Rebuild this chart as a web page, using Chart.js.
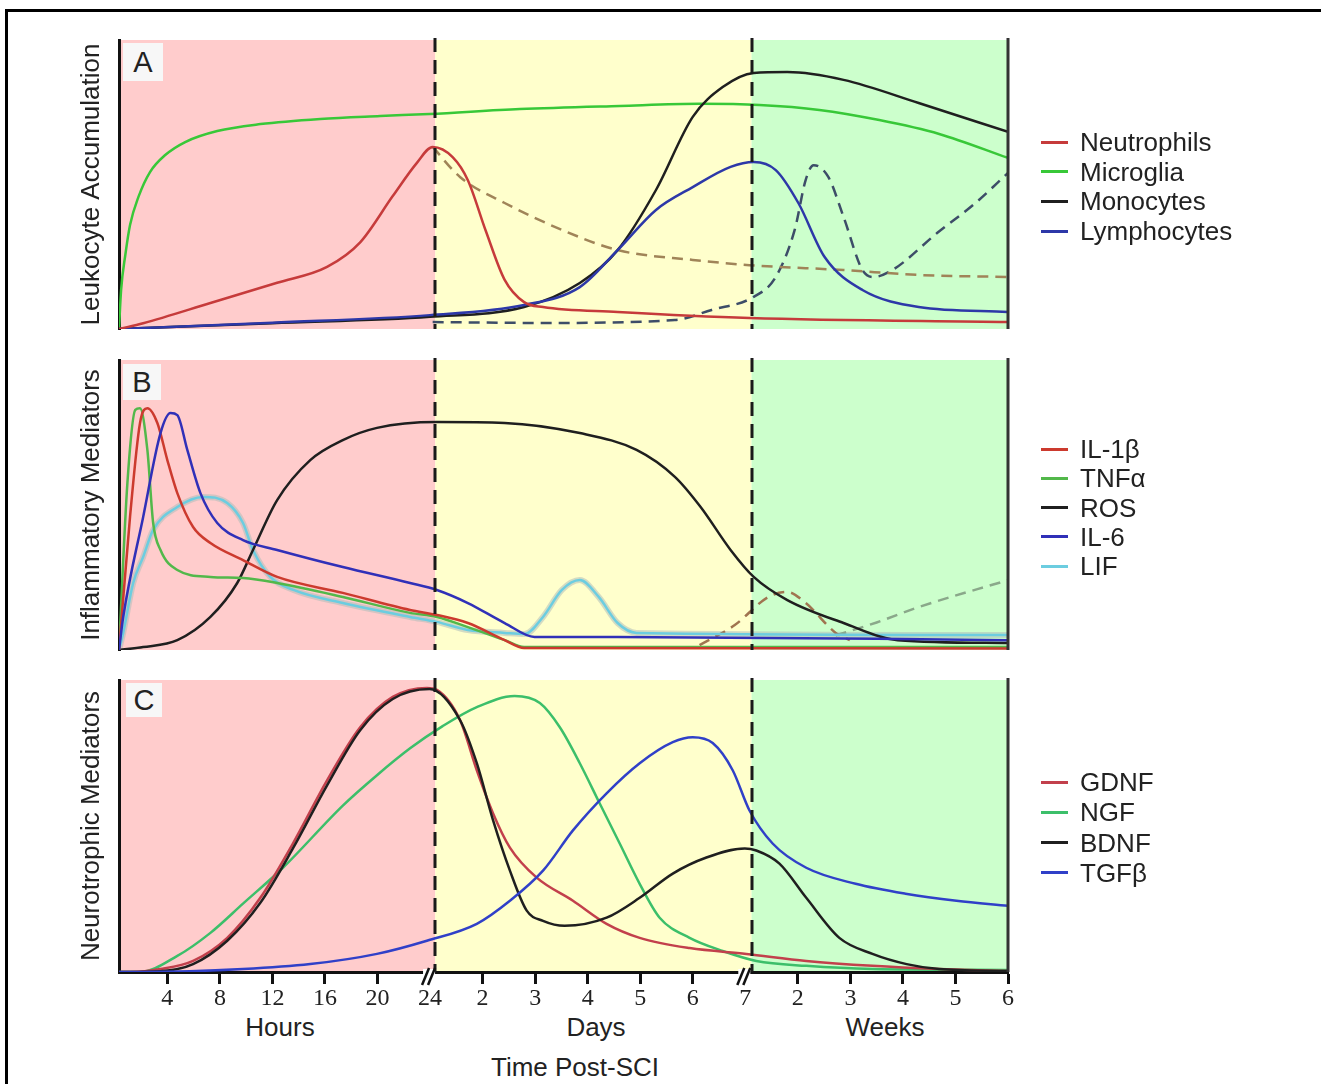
<!DOCTYPE html>
<html><head><meta charset="utf-8">
<script src="https://cdn.jsdelivr.net/npm/chart.js@4.4.1/dist/chart.umd.min.js"></script>
<style>
html,body{margin:0;padding:0;background:#fff;width:1321px;height:1084px;overflow:hidden;position:relative;font-family:"Liberation Sans",Arial,sans-serif;color:#222}
#frame{position:absolute;left:5px;top:9px;width:1340px;height:1100px;border:3px solid #000;box-sizing:border-box}
canvas{position:absolute;left:0}
.lbl{position:absolute;white-space:nowrap;transform:translate(-50%,-50%);font-size:26px;line-height:1}
.item{position:absolute;left:1041px;display:flex;align-items:center;white-space:nowrap;transform:translateY(-50%);font-size:26px;line-height:1}
.swatch{width:27px;height:3px;margin-right:12px}
.letter{position:absolute;background:#f7f7f7;font-size:29px;display:flex;align-items:center;justify-content:center;line-height:1}
</style></head>
<body>
<div id="frame"></div>
<canvas id="cA" width="1321" height="312" style="top:28px"></canvas>
<canvas id="cB" width="1321" height="313" style="top:348px"></canvas>
<canvas id="cC" width="1321" height="344" style="top:668px"></canvas>
<div id="overlay"></div>
<script>
// ---------- axis / category data ----------
// x axis is in tick units: 1..6 = 4..24 hours, 7..12 = days 2..7, 13..17 = weeks 2..6
const X_MIN = 0.08, X_MAX = 17;
const BREAKS = [6.1, 12.12];
const xTickValues = [1,2,3,4,5,6,7,8,9,10,11,12,13,14,15,16,17];
const xTickLabels = ['4','8','12','16','20','24','2','3','4','5','6','7','2','3','4','5','6'];
const breakTicks = [6, 12];
const periodLabels = ['Hours','Days','Weeks'];
const xAxisTitle = 'Time Post-SCI';
const panelLetters = ['A','B','C'];
const panelTitles = ['Leukocyte Accumulation','Inflammatory Mediators','Neurotrophic Mediators'];
const seriesA = ['Neutrophils','Microglia','Monocytes','Lymphocytes'];
const seriesB = ['IL-1\u03b2','TNF\u03b1','ROS','IL-6','LIF'];
const seriesC = ['GDNF','NGF','BDNF','TGF\u03b2'];

// ---------- panel A: leukocyte accumulation ----------
const neutrophils = [[0.08,0],[0.54,2],[1.82,9],[3.09,16],[4.04,21.5],[4.67,30],[5.29,46],[5.75,57.5],[6.05,63],[6.43,59.5],[6.72,51.5],[7.06,34],[7.42,17],[7.79,9.3],[8.15,7.6],[9.57,5.9],[12.08,3.8],[17,2.4]];
const neutrophilsAlt = [[6.05,63],[6.57,52.6],[7.42,43.6],[8.51,34.3],[9.57,27.3],[11.0,23.9],[12.08,22.1],[13.87,20.4],[15.3,18.7],[17,18]];
const microglia = [[0.08,0],[0.12,13.5],[0.2,25.6],[0.29,36],[0.45,45.7],[0.67,54.3],[0.96,60.2],[1.34,64.7],[1.95,68.5],[2.77,70.9],[3.91,72.7],[5.05,73.7],[5.99,74.4],[7.71,76.1],[9.61,77.2],[11.13,77.9],[12.27,77.5],[13.41,75.8],[14.55,72.3],[15.69,67.5],[17,59.2]];
const monocytes = [[0.08,0],[3,2],[6,4.2],[7.79,7.6],[8.85,15.9],[9.57,27.3],[10.3,48.1],[11.0,73.4],[11.57,83.7],[12.16,88.6],[12.8,88.9],[13.87,86.2],[15.3,78.2],[17,68.2]];
const lymphocytes = [[0.08,0],[3,2.2],[6,4.8],[7.79,8.3],[8.85,14.5],[9.57,27.3],[10.3,41.2],[11.0,49.1],[11.72,56.1],[12.16,57.8],[12.58,55],[13.01,43.6],[13.51,24.9],[14.23,13.5],[15.3,7.6],[17,5.9]];
const lymphocytesAlt = [[6.05,2.4],[8.15,2.1],[10.66,3.1],[11.36,6.6],[12.16,11.1],[12.58,18],[12.94,34.3],[13.15,51.6],[13.3,56.7],[13.58,52.6],[13.87,38.8],[14.23,20.4],[14.44,18],[14.8,20.4],[15.65,33.2],[16.38,43.6],[17,54]];

// ---------- panel B: inflammatory mediators ----------
const il1b = [[0.08,0],[0.29,45.9],[0.48,78.3],[0.62,83.4],[0.81,78.3],[1.0,65.5],[1.19,54.1],[1.49,42.4],[1.82,36.9],[2.44,31],[3.09,25.2],[4.34,19.7],[5.62,13.8],[6.13,12.1],[6.72,9.3],[7.42,3.4],[7.79,0.7],[17,0.5]];
const il1bAlt = [[11.13,1.7],[11.8,8.6],[12.44,18.3],[12.8,20],[13.15,16.2],[13.72,5.9],[13.99,3.4]];
const tnfa = [[0.08,0],[0.24,57.6],[0.39,82.8],[0.48,83.4],[0.62,69],[0.73,43.8],[0.87,34.5],[1.19,27.6],[1.82,25.2],[2.44,24.8],[3.09,23.1],[4.34,18.3],[5.62,12.8],[6.13,11.4],[6.72,7.9],[7.42,3.4],[7.79,1],[17,1]];
const tnfaAlt = [[13.72,5],[14.5,9.5],[15.3,14.8],[17,24.1]];
const ros = [[0.08,0],[0.54,1],[1.19,3.4],[1.82,11.4],[2.33,23.1],[2.63,34.5],[3.09,51.7],[3.72,65.5],[4.34,72.4],[4.99,76.6],[6.13,78.6],[7.42,78.3],[8.85,74.8],[9.93,69],[10.66,59.7],[11.15,49.3],[11.72,34.5],[12.16,25.2],[12.8,17.2],[13.87,9.3],[14.9,3.4],[17,2.4]];
const il6 = [[0.08,0],[0.16,11.4],[0.54,45.9],[0.87,74.8],[1.06,81.7],[1.19,81],[1.38,69],[1.63,54.1],[1.95,43.8],[2.44,37.9],[3.09,34.5],[4.34,28.6],[5.62,23.1],[6.13,20.7],[6.72,16.2],[7.42,9.3],[7.99,4.5],[9.57,4.5],[17,3.4]];
const lif = [[0.08,0],[0.16,5.9],[0.35,23.1],[0.54,32.1],[0.73,41.4],[1.19,49.3],[1.68,52.8],[2.14,50.7],[2.44,43.8],[2.63,34.5],[2.96,25.2],[3.4,20.7],[4.34,16.2],[5.62,11.4],[6.13,9.7],[6.72,6.9],[7.42,5.9],[7.8,5.5],[8.15,11.4],[8.51,20.7],[8.85,24.1],[9.21,18.3],[9.57,9.3],[9.93,5.9],[17,5.2]];

// ---------- panel C: neurotrophic mediators ----------
const gdnf = [[0.08,0],[0.29,0],[0.87,1],[1.49,3.8],[2.14,11.7],[2.77,25.4],[3.39,44],[4.04,65.6],[4.67,83.8],[5.29,94.2],[5.94,97.3],[6.13,96.6],[6.57,86.3],[6.89,69.1],[7.2,54.3],[7.52,42.6],[8.03,32.3],[8.72,24.4],[9.36,16.5],[9.99,11.7],[10.94,8.2],[12.02,6.2],[13.16,3.8],[14.42,2.1],[15.69,1],[17,0.3]];
const ngf = [[0.08,0],[0.48,0],[1.19,5.5],[1.82,13.4],[2.44,23.4],[3.2,35.7],[4.34,57],[4.99,67.4],[5.62,76.6],[6.24,84.2],[6.89,90.7],[7.61,94.5],[8.09,92.1],[8.47,83.8],[8.85,71.5],[9.23,57.7],[9.61,44],[9.99,30.2],[10.37,18.6],[10.94,11.7],[11.57,7.2],[12.21,3.8],[13.16,2.1],[14.42,1],[17,0.7]];
const bdnf = [[0.08,0],[0.87,0.3],[1.49,2.7],[2.14,10.7],[2.77,23.7],[3.39,42.3],[4.04,63.9],[4.67,82.8],[5.29,93.5],[5.99,96.9],[6.57,86.3],[6.89,71.5],[7.2,51.9],[7.52,34.7],[7.84,21],[8.15,17.5],[8.56,15.8],[9.36,18.6],[9.99,25.4],[10.62,33.7],[11.26,39.2],[11.99,42.3],[12.21,41.6],[12.65,37.1],[13.16,25.4],[13.79,11.7],[14.42,6.2],[15.07,2.7],[15.69,1],[17,0.3]];
const tgfb = [[0.08,0],[0.54,0],[2.44,1],[3.72,2.7],[4.99,6.2],[5.94,10.7],[6.89,16.5],[7.52,24.4],[8.15,34.7],[8.72,48.5],[9.36,61.2],[9.99,71.5],[10.62,78.7],[11.0,80.4],[11.38,78.4],[11.76,69.1],[12.08,55.3],[12.52,44],[13.16,35.7],[14.1,30.2],[15.05,26.8],[16.02,24.4],[17,22.7]];

// ---------- styling ----------
const BG = ['#ffcccc','#ffffcc','#ccffcc'];
const SANS = '"Liberation Sans", Arial, sans-serif';
const SERIF = '"Liberation Serif", "Times New Roman", serif';

function line(label, pts, color, extra) {
  return Object.assign({
    label, data: pts.map(p => ({x: p[0], y: p[1]})),
    borderColor: color, backgroundColor: color, borderWidth: 2.5,
    pointRadius: 0, fill: false, cubicInterpolationMode: 'monotone'
  }, extra || {});
}
const DASH = {borderDash: [11, 7], borderWidth: 2.5};

const colA = ['#c63b3b','#38c838','#1f1f1f','#2d38a8'];
const colB = ['#cc3a2e','#52b84a','#1f1f1f','#3030b8','#6ccde0'];
const colC = ['#c2404c','#3cbf6a','#1f1f1f','#3040c8'];

const dsA = [
  line(seriesA[0], neutrophils, colA[0]),
  line(seriesA[3], lymphocytes, colA[3]),
  line(seriesA[2], monocytes, colA[2]),
  line(seriesA[1], microglia, colA[1]),
  line('', neutrophilsAlt, '#a08458', DASH),
  line('', lymphocytesAlt, '#3d4d68', DASH)
];
const dsB = [
  line(seriesB[3], il6, colB[3]),
  line(seriesB[0], il1b, colB[0]),
  line(seriesB[1], tnfa, colB[1]),
  line(seriesB[2], ros, colB[2]),
  line(seriesB[4], lif, colB[4]),
  line('', il1bAlt, '#a07450', DASH),
  line('', tnfaAlt, '#8aa88a', DASH),
  line('', lif, 'rgba(175,190,185,0.55)', {borderWidth: 6})
];
const dsC = [
  line(seriesC[3], tgfb, colC[3]),
  line(seriesC[2], bdnf, colC[2]),
  line(seriesC[0], gdnf, colC[0]),
  line(seriesC[1], ngf, colC[1])
];

const decor = {
  id: 'decor',
  beforeDraw(chart) {
    const {ctx, chartArea: a, scales: {x}} = chart;
    const b1 = x.getPixelForValue(BREAKS[0]), b2 = x.getPixelForValue(BREAKS[1]);
    ctx.save();
    ctx.fillStyle = BG[0]; ctx.fillRect(a.left, a.top, b1 - a.left, a.bottom - a.top);
    ctx.fillStyle = BG[1]; ctx.fillRect(b1, a.top, b2 - b1, a.bottom - a.top);
    ctx.fillStyle = BG[2]; ctx.fillRect(b2, a.top, a.right - b2, a.bottom - a.top);
    ctx.restore();
  },
  afterDatasetsDraw(chart) {
    const {ctx, chartArea: a, scales: {x}} = chart;
    ctx.save();
    ctx.strokeStyle = '#1a1a1a'; ctx.lineWidth = 3; ctx.setLineDash([14, 8]);
    BREAKS.forEach(b => {
      const px = Math.round(x.getPixelForValue(b));
      ctx.beginPath(); ctx.moveTo(px, a.top - 2); ctx.lineTo(px, a.bottom); ctx.stroke();
    });
    ctx.setLineDash([]);
    ctx.strokeStyle = '#333'; ctx.lineWidth = 3;
    ctx.beginPath(); ctx.moveTo(a.right, a.top - 2); ctx.lineTo(a.right, a.bottom); ctx.stroke();
    ctx.restore();
  },
  afterDraw(chart) {
    const {ctx, scales: {x}} = chart;
    if (!x.options.display) return;
    ctx.save();
    breakTicks.forEach(t => {
      const px = x.getPixelForValue(t) - 1;
      const y = x.top;
      ctx.fillStyle = '#fff';
      ctx.fillRect(px - 6, y - 3, 12, 7);
      ctx.strokeStyle = '#111'; ctx.lineWidth = 2.5;
      [-3, 3].forEach(k => {
        ctx.beginPath(); ctx.moveTo(px + k - 4, y + 13); ctx.lineTo(px + k + 3, y - 4); ctx.stroke();
      });
    });
    ctx.restore();
  }
};

function makePanel(id, title, datasets, showX, padBottom) {
  return new Chart(document.getElementById(id), {
    type: 'line',
    data: {datasets},
    options: {
      responsive: false, animation: false, events: [],
      layout: {padding: {left: 72, right: 313, top: 12, bottom: padBottom}},
      plugins: {legend: {display: false}, tooltip: {enabled: false}},
      scales: {
        x: {
          type: 'linear', min: X_MIN, max: X_MAX, display: showX,
          afterBuildTicks(s) { s.ticks = xTickValues.map(v => ({value: v})); },
          ticks: {
            autoSkip: false, maxRotation: 0, minRotation: 0, padding: 0, color: '#222',
            font: {family: SERIF, size: 24},
            callback: (v) => { const i = xTickValues.indexOf(v); return i >= 0 ? xTickLabels[i] : ''; }
          },
          grid: {
            display: true, drawOnChartArea: false, drawTicks: true, tickLength: 12, tickWidth: 3,
            tickColor: (c) => (c.tick && breakTicks.includes(c.tick.value)) ? 'rgba(0,0,0,0)' : '#111'
          },
          border: {display: true, color: '#111', width: 3},
          afterFit(s) { s.height = showX ? 40 : 0; }
        },
        y: {
          min: 0, max: 100,
          ticks: {display: false},
          grid: {display: false},
          border: {display: true, color: '#111', width: 3},
          title: {display: true, text: title, color: '#222', font: {family: SANS, size: 26}, padding: {top: 4, bottom: 0}},
          afterFit(s) { s.width = 47; }
        }
      }
    },
    plugins: [decor]
  });
}

makePanel('cA', panelTitles[0], dsA, false, 11);
makePanel('cB', panelTitles[1], dsB, false, 11);
makePanel('cC', panelTitles[2], dsC, true, 0);

// ---------- HTML overlays: legends, letters, period labels ----------
const ov = document.getElementById('overlay');
function addLegend(names, colors, y0, step) {
  names.forEach((n, i) => {
    const d = document.createElement('div');
    d.className = 'item';
    d.style.top = (y0 + i * step) + 'px';
    const s = document.createElement('span'); s.className = 'swatch'; s.style.background = colors[i];
    const t = document.createElement('span'); t.textContent = n;
    d.appendChild(s); d.appendChild(t); ov.appendChild(d);
  });
}
addLegend(seriesA, colA, 142, 29.7);
addLegend(seriesB, colB, 449, 29.3);
addLegend(seriesC, colC, 782, 30.3);

const letterBoxes = [[123,43,40,38],[123,364,38,36],[126,683,36,34]];
panelLetters.forEach((L, i) => {
  const b = letterBoxes[i];
  const d = document.createElement('div'); d.className = 'letter';
  d.style.left = b[0] + 'px'; d.style.top = b[1] + 'px'; d.style.width = b[2] + 'px'; d.style.height = b[3] + 'px';
  d.textContent = L; ov.appendChild(d);
});

const periodPos = [[280,1027],[596,1027],[885,1027]];
periodLabels.forEach((p, i) => {
  const d = document.createElement('div'); d.className = 'lbl';
  d.style.left = periodPos[i][0] + 'px'; d.style.top = periodPos[i][1] + 'px';
  d.textContent = p; ov.appendChild(d);
});
const tt = document.createElement('div'); tt.className = 'lbl';
tt.style.left = '575px'; tt.style.top = '1067px'; tt.textContent = xAxisTitle; ov.appendChild(tt);
</script>
</body></html>
